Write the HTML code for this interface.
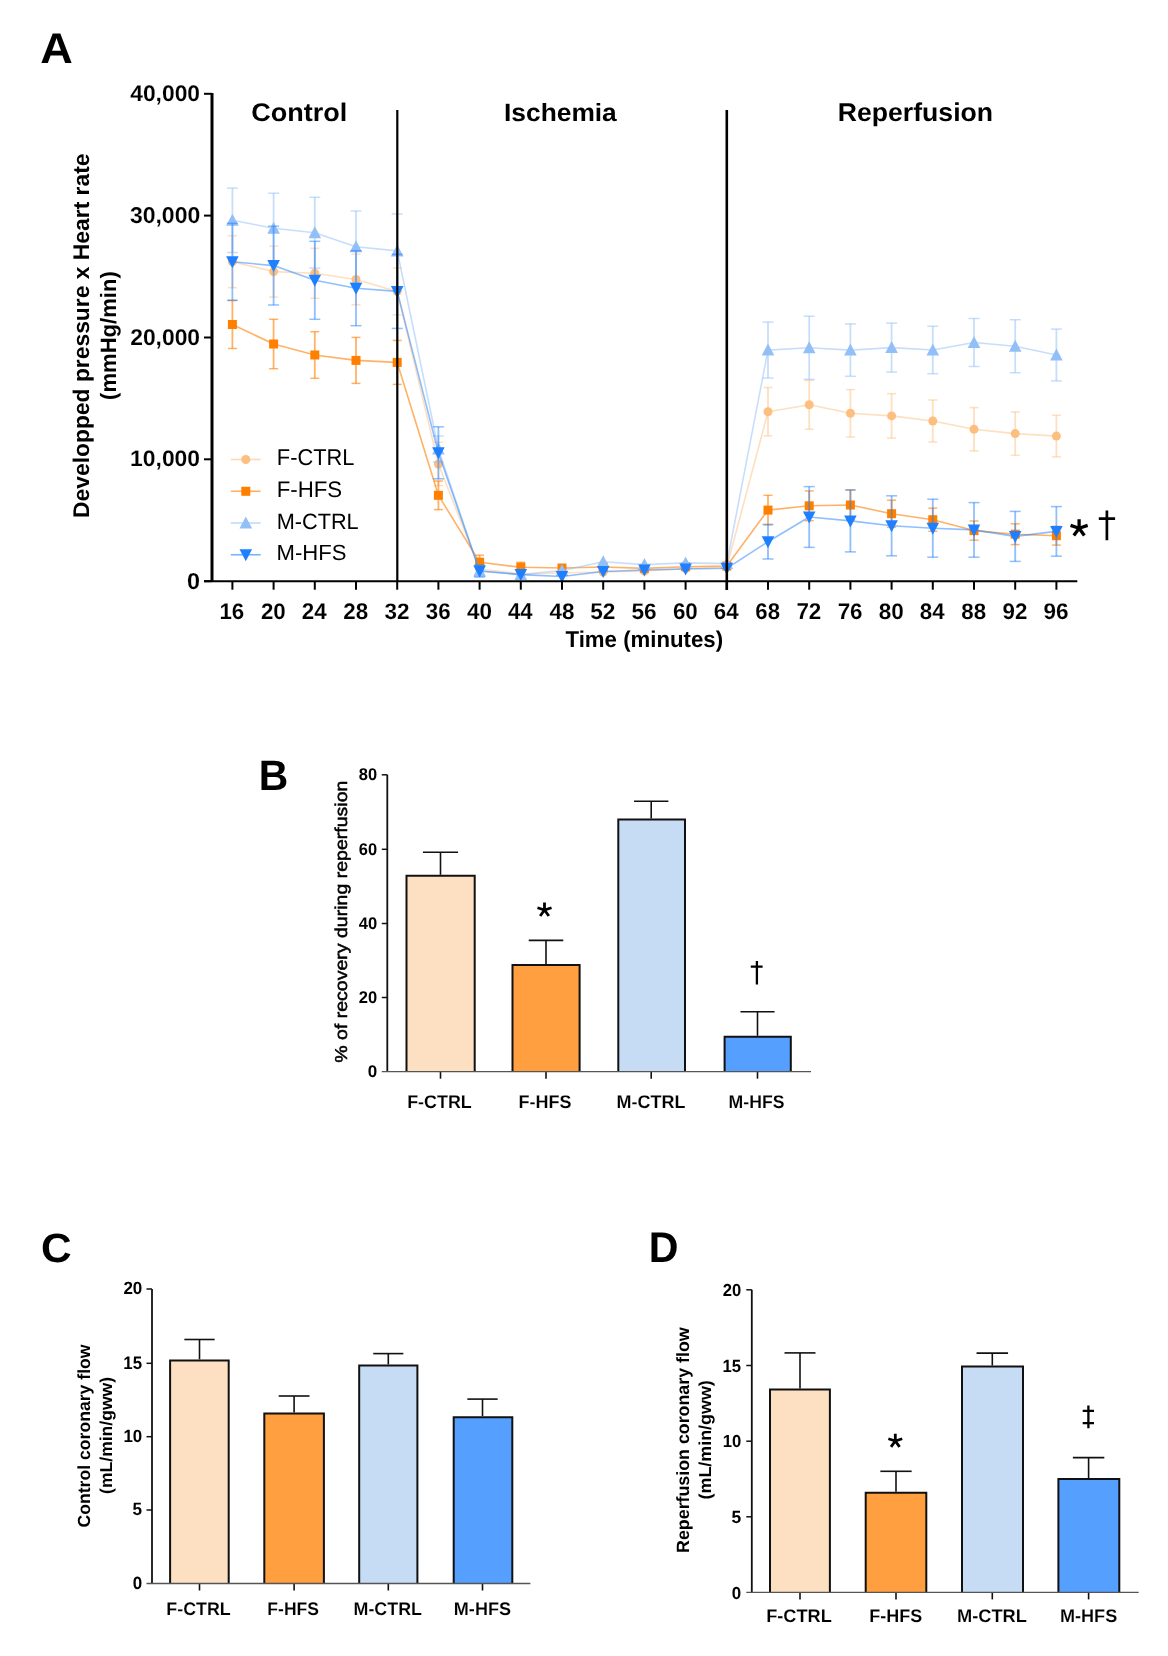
<!DOCTYPE html>
<html><head><meta charset="utf-8"><style>
html,body{margin:0;padding:0;background:#fff;}
svg{display:block;filter:blur(0.3px);}
text{font-family:"Liberation Sans", sans-serif;fill:#000;text-rendering:geometricPrecision;}
</style></head><body>
<svg width="1168" height="1656" viewBox="0 0 1168 1656">
<rect width="1168" height="1656" fill="#fff"/>
<g stroke-opacity="0.5">
<line x1="232.40" y1="235.70" x2="232.40" y2="287.70" stroke="#FDBF80" stroke-width="1.8" />
<line x1="227.90" y1="235.70" x2="236.90" y2="235.70" stroke="#FDBF80" stroke-width="1.5" />
<line x1="227.90" y1="287.70" x2="236.90" y2="287.70" stroke="#FDBF80" stroke-width="1.5" />
<line x1="273.60" y1="246.10" x2="273.60" y2="297.10" stroke="#FDBF80" stroke-width="1.8" />
<line x1="269.10" y1="246.10" x2="278.10" y2="246.10" stroke="#FDBF80" stroke-width="1.5" />
<line x1="269.10" y1="297.10" x2="278.10" y2="297.10" stroke="#FDBF80" stroke-width="1.5" />
<line x1="314.80" y1="248.30" x2="314.80" y2="298.30" stroke="#FDBF80" stroke-width="1.8" />
<line x1="310.30" y1="248.30" x2="319.30" y2="248.30" stroke="#FDBF80" stroke-width="1.5" />
<line x1="310.30" y1="298.30" x2="319.30" y2="298.30" stroke="#FDBF80" stroke-width="1.5" />
<line x1="356.00" y1="254.20" x2="356.00" y2="304.80" stroke="#FDBF80" stroke-width="1.8" />
<line x1="351.50" y1="254.20" x2="360.50" y2="254.20" stroke="#FDBF80" stroke-width="1.5" />
<line x1="351.50" y1="304.80" x2="360.50" y2="304.80" stroke="#FDBF80" stroke-width="1.5" />
<line x1="397.20" y1="267.90" x2="397.20" y2="314.90" stroke="#FDBF80" stroke-width="1.8" />
<line x1="392.70" y1="267.90" x2="401.70" y2="267.90" stroke="#FDBF80" stroke-width="1.5" />
<line x1="392.70" y1="314.90" x2="401.70" y2="314.90" stroke="#FDBF80" stroke-width="1.5" />
<line x1="438.40" y1="442.30" x2="438.40" y2="485.70" stroke="#FDBF80" stroke-width="1.8" />
<line x1="433.90" y1="442.30" x2="442.90" y2="442.30" stroke="#FDBF80" stroke-width="1.5" />
<line x1="433.90" y1="485.70" x2="442.90" y2="485.70" stroke="#FDBF80" stroke-width="1.5" />
<line x1="479.60" y1="564.00" x2="479.60" y2="574.00" stroke="#FDBF80" stroke-width="1.8" />
<line x1="475.10" y1="564.00" x2="484.10" y2="564.00" stroke="#FDBF80" stroke-width="1.5" />
<line x1="475.10" y1="574.00" x2="484.10" y2="574.00" stroke="#FDBF80" stroke-width="1.5" />
<line x1="768.00" y1="387.50" x2="768.00" y2="435.90" stroke="#FDBF80" stroke-width="1.8" />
<line x1="763.50" y1="387.50" x2="772.50" y2="387.50" stroke="#FDBF80" stroke-width="1.5" />
<line x1="763.50" y1="435.90" x2="772.50" y2="435.90" stroke="#FDBF80" stroke-width="1.5" />
<line x1="809.20" y1="380.40" x2="809.20" y2="429.20" stroke="#FDBF80" stroke-width="1.8" />
<line x1="804.70" y1="380.40" x2="813.70" y2="380.40" stroke="#FDBF80" stroke-width="1.5" />
<line x1="804.70" y1="429.20" x2="813.70" y2="429.20" stroke="#FDBF80" stroke-width="1.5" />
<line x1="850.40" y1="389.60" x2="850.40" y2="437.00" stroke="#FDBF80" stroke-width="1.8" />
<line x1="845.90" y1="389.60" x2="854.90" y2="389.60" stroke="#FDBF80" stroke-width="1.5" />
<line x1="845.90" y1="437.00" x2="854.90" y2="437.00" stroke="#FDBF80" stroke-width="1.5" />
<line x1="891.60" y1="393.70" x2="891.60" y2="438.10" stroke="#FDBF80" stroke-width="1.8" />
<line x1="887.10" y1="393.70" x2="896.10" y2="393.70" stroke="#FDBF80" stroke-width="1.5" />
<line x1="887.10" y1="438.10" x2="896.10" y2="438.10" stroke="#FDBF80" stroke-width="1.5" />
<line x1="932.80" y1="400.00" x2="932.80" y2="442.00" stroke="#FDBF80" stroke-width="1.8" />
<line x1="928.30" y1="400.00" x2="937.30" y2="400.00" stroke="#FDBF80" stroke-width="1.5" />
<line x1="928.30" y1="442.00" x2="937.30" y2="442.00" stroke="#FDBF80" stroke-width="1.5" />
<line x1="974.00" y1="407.60" x2="974.00" y2="451.00" stroke="#FDBF80" stroke-width="1.8" />
<line x1="969.50" y1="407.60" x2="978.50" y2="407.60" stroke="#FDBF80" stroke-width="1.5" />
<line x1="969.50" y1="451.00" x2="978.50" y2="451.00" stroke="#FDBF80" stroke-width="1.5" />
<line x1="1015.20" y1="411.90" x2="1015.20" y2="455.30" stroke="#FDBF80" stroke-width="1.8" />
<line x1="1010.70" y1="411.90" x2="1019.70" y2="411.90" stroke="#FDBF80" stroke-width="1.5" />
<line x1="1010.70" y1="455.30" x2="1019.70" y2="455.30" stroke="#FDBF80" stroke-width="1.5" />
<line x1="1056.40" y1="415.30" x2="1056.40" y2="456.90" stroke="#FDBF80" stroke-width="1.8" />
<line x1="1051.90" y1="415.30" x2="1060.90" y2="415.30" stroke="#FDBF80" stroke-width="1.5" />
<line x1="1051.90" y1="456.90" x2="1060.90" y2="456.90" stroke="#FDBF80" stroke-width="1.5" />
</g>
<polyline points="232.4,261.7 273.6,271.6 314.8,273.3 356.0,279.5 397.2,291.4 438.4,464.0 479.6,569.0 520.8,574.0 562.0,573.0 603.2,572.0 644.4,571.0 685.6,568.5 726.8,567.0 768.0,411.7 809.2,404.8 850.4,413.3 891.6,415.9 932.8,421.0 974.0,429.3 1015.2,433.6 1056.4,436.1" fill="none" stroke="#FDBF80" stroke-width="1.6" stroke-opacity="0.5" stroke-linejoin="round"/>
<circle cx="232.4" cy="261.7" r="4.5" fill="#FDBF80"/>
<circle cx="273.6" cy="271.6" r="4.5" fill="#FDBF80"/>
<circle cx="314.8" cy="273.3" r="4.5" fill="#FDBF80"/>
<circle cx="356.0" cy="279.5" r="4.5" fill="#FDBF80"/>
<circle cx="397.2" cy="291.4" r="4.5" fill="#FDBF80"/>
<circle cx="438.4" cy="464.0" r="4.5" fill="#FDBF80"/>
<circle cx="479.6" cy="569.0" r="4.5" fill="#FDBF80"/>
<circle cx="520.8" cy="574.0" r="4.5" fill="#FDBF80"/>
<circle cx="562.0" cy="573.0" r="4.5" fill="#FDBF80"/>
<circle cx="603.2" cy="572.0" r="4.5" fill="#FDBF80"/>
<circle cx="644.4" cy="571.0" r="4.5" fill="#FDBF80"/>
<circle cx="685.6" cy="568.5" r="4.5" fill="#FDBF80"/>
<circle cx="726.8" cy="567.0" r="4.5" fill="#FDBF80"/>
<circle cx="768.0" cy="411.7" r="4.5" fill="#FDBF80"/>
<circle cx="809.2" cy="404.8" r="4.5" fill="#FDBF80"/>
<circle cx="850.4" cy="413.3" r="4.5" fill="#FDBF80"/>
<circle cx="891.6" cy="415.9" r="4.5" fill="#FDBF80"/>
<circle cx="932.8" cy="421.0" r="4.5" fill="#FDBF80"/>
<circle cx="974.0" cy="429.3" r="4.5" fill="#FDBF80"/>
<circle cx="1015.2" cy="433.6" r="4.5" fill="#FDBF80"/>
<circle cx="1056.4" cy="436.1" r="4.5" fill="#FDBF80"/>
<g stroke-opacity="0.6">
<line x1="232.40" y1="300.50" x2="232.40" y2="348.50" stroke="#FF7F00" stroke-width="1.8" />
<line x1="227.90" y1="300.50" x2="236.90" y2="300.50" stroke="#FF7F00" stroke-width="1.5" />
<line x1="227.90" y1="348.50" x2="236.90" y2="348.50" stroke="#FF7F00" stroke-width="1.5" />
<line x1="273.60" y1="319.30" x2="273.60" y2="368.70" stroke="#FF7F00" stroke-width="1.8" />
<line x1="269.10" y1="319.30" x2="278.10" y2="319.30" stroke="#FF7F00" stroke-width="1.5" />
<line x1="269.10" y1="368.70" x2="278.10" y2="368.70" stroke="#FF7F00" stroke-width="1.5" />
<line x1="314.80" y1="331.70" x2="314.80" y2="378.30" stroke="#FF7F00" stroke-width="1.8" />
<line x1="310.30" y1="331.70" x2="319.30" y2="331.70" stroke="#FF7F00" stroke-width="1.5" />
<line x1="310.30" y1="378.30" x2="319.30" y2="378.30" stroke="#FF7F00" stroke-width="1.5" />
<line x1="356.00" y1="337.40" x2="356.00" y2="383.40" stroke="#FF7F00" stroke-width="1.8" />
<line x1="351.50" y1="337.40" x2="360.50" y2="337.40" stroke="#FF7F00" stroke-width="1.5" />
<line x1="351.50" y1="383.40" x2="360.50" y2="383.40" stroke="#FF7F00" stroke-width="1.5" />
<line x1="397.20" y1="340.40" x2="397.20" y2="384.40" stroke="#FF7F00" stroke-width="1.8" />
<line x1="392.70" y1="340.40" x2="401.70" y2="340.40" stroke="#FF7F00" stroke-width="1.5" />
<line x1="392.70" y1="384.40" x2="401.70" y2="384.40" stroke="#FF7F00" stroke-width="1.5" />
<line x1="438.40" y1="481.00" x2="438.40" y2="509.60" stroke="#FF7F00" stroke-width="1.8" />
<line x1="433.90" y1="481.00" x2="442.90" y2="481.00" stroke="#FF7F00" stroke-width="1.5" />
<line x1="433.90" y1="509.60" x2="442.90" y2="509.60" stroke="#FF7F00" stroke-width="1.5" />
<line x1="479.60" y1="555.20" x2="479.60" y2="569.20" stroke="#FF7F00" stroke-width="1.8" />
<line x1="475.10" y1="555.20" x2="484.10" y2="555.20" stroke="#FF7F00" stroke-width="1.5" />
<line x1="475.10" y1="569.20" x2="484.10" y2="569.20" stroke="#FF7F00" stroke-width="1.5" />
<line x1="520.80" y1="562.30" x2="520.80" y2="572.30" stroke="#FF7F00" stroke-width="1.8" />
<line x1="516.30" y1="562.30" x2="525.30" y2="562.30" stroke="#FF7F00" stroke-width="1.5" />
<line x1="516.30" y1="572.30" x2="525.30" y2="572.30" stroke="#FF7F00" stroke-width="1.5" />
<line x1="768.00" y1="495.30" x2="768.00" y2="524.90" stroke="#FF7F00" stroke-width="1.8" />
<line x1="763.50" y1="495.30" x2="772.50" y2="495.30" stroke="#FF7F00" stroke-width="1.5" />
<line x1="763.50" y1="524.90" x2="772.50" y2="524.90" stroke="#FF7F00" stroke-width="1.5" />
<line x1="809.20" y1="490.90" x2="809.20" y2="520.70" stroke="#FF7F00" stroke-width="1.8" />
<line x1="804.70" y1="490.90" x2="813.70" y2="490.90" stroke="#FF7F00" stroke-width="1.5" />
<line x1="804.70" y1="520.70" x2="813.70" y2="520.70" stroke="#FF7F00" stroke-width="1.5" />
<line x1="850.40" y1="490.00" x2="850.40" y2="520.00" stroke="#FF7F00" stroke-width="1.8" />
<line x1="845.90" y1="490.00" x2="854.90" y2="490.00" stroke="#FF7F00" stroke-width="1.5" />
<line x1="845.90" y1="520.00" x2="854.90" y2="520.00" stroke="#FF7F00" stroke-width="1.5" />
<line x1="891.60" y1="500.20" x2="891.60" y2="527.20" stroke="#FF7F00" stroke-width="1.8" />
<line x1="887.10" y1="500.20" x2="896.10" y2="500.20" stroke="#FF7F00" stroke-width="1.5" />
<line x1="887.10" y1="527.20" x2="896.10" y2="527.20" stroke="#FF7F00" stroke-width="1.5" />
<line x1="932.80" y1="508.10" x2="932.80" y2="531.30" stroke="#FF7F00" stroke-width="1.8" />
<line x1="928.30" y1="508.10" x2="937.30" y2="508.10" stroke="#FF7F00" stroke-width="1.5" />
<line x1="928.30" y1="531.30" x2="937.30" y2="531.30" stroke="#FF7F00" stroke-width="1.5" />
<line x1="974.00" y1="521.00" x2="974.00" y2="540.20" stroke="#FF7F00" stroke-width="1.8" />
<line x1="969.50" y1="521.00" x2="978.50" y2="521.00" stroke="#FF7F00" stroke-width="1.5" />
<line x1="969.50" y1="540.20" x2="978.50" y2="540.20" stroke="#FF7F00" stroke-width="1.5" />
<line x1="1015.20" y1="523.80" x2="1015.20" y2="544.60" stroke="#FF7F00" stroke-width="1.8" />
<line x1="1010.70" y1="523.80" x2="1019.70" y2="523.80" stroke="#FF7F00" stroke-width="1.5" />
<line x1="1010.70" y1="544.60" x2="1019.70" y2="544.60" stroke="#FF7F00" stroke-width="1.5" />
<line x1="1056.40" y1="526.30" x2="1056.40" y2="545.10" stroke="#FF7F00" stroke-width="1.8" />
<line x1="1051.90" y1="526.30" x2="1060.90" y2="526.30" stroke="#FF7F00" stroke-width="1.5" />
<line x1="1051.90" y1="545.10" x2="1060.90" y2="545.10" stroke="#FF7F00" stroke-width="1.5" />
</g>
<polyline points="232.4,324.5 273.6,344.0 314.8,355.0 356.0,360.4 397.2,362.4 438.4,495.3 479.6,562.2 520.8,567.3 562.0,568.0 603.2,567.0 644.4,568.4 685.6,566.7 726.8,566.0 768.0,510.1 809.2,505.8 850.4,505.0 891.6,513.7 932.8,519.7 974.0,530.6 1015.2,534.2 1056.4,535.7" fill="none" stroke="#FF7F00" stroke-width="1.6" stroke-opacity="0.6" stroke-linejoin="round"/>
<rect x="227.9" y="320.0" width="9" height="9" fill="#FF7F00"/>
<rect x="269.1" y="339.5" width="9" height="9" fill="#FF7F00"/>
<rect x="310.3" y="350.5" width="9" height="9" fill="#FF7F00"/>
<rect x="351.5" y="355.9" width="9" height="9" fill="#FF7F00"/>
<rect x="392.7" y="357.9" width="9" height="9" fill="#FF7F00"/>
<rect x="433.9" y="490.8" width="9" height="9" fill="#FF7F00"/>
<rect x="475.1" y="557.7" width="9" height="9" fill="#FF7F00"/>
<rect x="516.3" y="562.8" width="9" height="9" fill="#FF7F00"/>
<rect x="557.5" y="563.5" width="9" height="9" fill="#FF7F00"/>
<rect x="598.7" y="562.5" width="9" height="9" fill="#FF7F00"/>
<rect x="639.9" y="563.9" width="9" height="9" fill="#FF7F00"/>
<rect x="681.1" y="562.2" width="9" height="9" fill="#FF7F00"/>
<rect x="722.3" y="561.5" width="9" height="9" fill="#FF7F00"/>
<rect x="763.5" y="505.6" width="9" height="9" fill="#FF7F00"/>
<rect x="804.7" y="501.3" width="9" height="9" fill="#FF7F00"/>
<rect x="845.9" y="500.5" width="9" height="9" fill="#FF7F00"/>
<rect x="887.1" y="509.2" width="9" height="9" fill="#FF7F00"/>
<rect x="928.3" y="515.2" width="9" height="9" fill="#FF7F00"/>
<rect x="969.5" y="526.1" width="9" height="9" fill="#FF7F00"/>
<rect x="1010.7" y="529.7" width="9" height="9" fill="#FF7F00"/>
<rect x="1051.9" y="531.2" width="9" height="9" fill="#FF7F00"/>
<g stroke-opacity="0.52">
<line x1="232.40" y1="188.10" x2="232.40" y2="252.50" stroke="#93BFF7" stroke-width="1.8" />
<line x1="226.90" y1="188.10" x2="237.90" y2="188.10" stroke="#93BFF7" stroke-width="1.5" />
<line x1="226.90" y1="252.50" x2="237.90" y2="252.50" stroke="#93BFF7" stroke-width="1.5" />
<line x1="273.60" y1="193.20" x2="273.60" y2="263.20" stroke="#93BFF7" stroke-width="1.8" />
<line x1="268.10" y1="193.20" x2="279.10" y2="193.20" stroke="#93BFF7" stroke-width="1.5" />
<line x1="268.10" y1="263.20" x2="279.10" y2="263.20" stroke="#93BFF7" stroke-width="1.5" />
<line x1="314.80" y1="197.30" x2="314.80" y2="268.10" stroke="#93BFF7" stroke-width="1.8" />
<line x1="309.30" y1="197.30" x2="320.30" y2="197.30" stroke="#93BFF7" stroke-width="1.5" />
<line x1="309.30" y1="268.10" x2="320.30" y2="268.10" stroke="#93BFF7" stroke-width="1.5" />
<line x1="356.00" y1="211.00" x2="356.00" y2="282.60" stroke="#93BFF7" stroke-width="1.8" />
<line x1="350.50" y1="211.00" x2="361.50" y2="211.00" stroke="#93BFF7" stroke-width="1.5" />
<line x1="350.50" y1="282.60" x2="361.50" y2="282.60" stroke="#93BFF7" stroke-width="1.5" />
<line x1="397.20" y1="213.90" x2="397.20" y2="287.90" stroke="#93BFF7" stroke-width="1.8" />
<line x1="391.70" y1="213.90" x2="402.70" y2="213.90" stroke="#93BFF7" stroke-width="1.5" />
<line x1="391.70" y1="287.90" x2="402.70" y2="287.90" stroke="#93BFF7" stroke-width="1.5" />
<line x1="438.40" y1="436.00" x2="438.40" y2="462.00" stroke="#93BFF7" stroke-width="1.8" />
<line x1="432.90" y1="436.00" x2="443.90" y2="436.00" stroke="#93BFF7" stroke-width="1.5" />
<line x1="432.90" y1="462.00" x2="443.90" y2="462.00" stroke="#93BFF7" stroke-width="1.5" />
<line x1="479.60" y1="566.00" x2="479.60" y2="576.00" stroke="#93BFF7" stroke-width="1.8" />
<line x1="474.10" y1="566.00" x2="485.10" y2="566.00" stroke="#93BFF7" stroke-width="1.5" />
<line x1="474.10" y1="576.00" x2="485.10" y2="576.00" stroke="#93BFF7" stroke-width="1.5" />
<line x1="768.00" y1="322.10" x2="768.00" y2="378.10" stroke="#93BFF7" stroke-width="1.8" />
<line x1="762.50" y1="322.10" x2="773.50" y2="322.10" stroke="#93BFF7" stroke-width="1.5" />
<line x1="762.50" y1="378.10" x2="773.50" y2="378.10" stroke="#93BFF7" stroke-width="1.5" />
<line x1="809.20" y1="316.20" x2="809.20" y2="379.40" stroke="#93BFF7" stroke-width="1.8" />
<line x1="803.70" y1="316.20" x2="814.70" y2="316.20" stroke="#93BFF7" stroke-width="1.5" />
<line x1="803.70" y1="379.40" x2="814.70" y2="379.40" stroke="#93BFF7" stroke-width="1.5" />
<line x1="850.40" y1="323.90" x2="850.40" y2="376.30" stroke="#93BFF7" stroke-width="1.8" />
<line x1="844.90" y1="323.90" x2="855.90" y2="323.90" stroke="#93BFF7" stroke-width="1.5" />
<line x1="844.90" y1="376.30" x2="855.90" y2="376.30" stroke="#93BFF7" stroke-width="1.5" />
<line x1="891.60" y1="323.10" x2="891.60" y2="372.10" stroke="#93BFF7" stroke-width="1.8" />
<line x1="886.10" y1="323.10" x2="897.10" y2="323.10" stroke="#93BFF7" stroke-width="1.5" />
<line x1="886.10" y1="372.10" x2="897.10" y2="372.10" stroke="#93BFF7" stroke-width="1.5" />
<line x1="932.80" y1="326.30" x2="932.80" y2="373.70" stroke="#93BFF7" stroke-width="1.8" />
<line x1="927.30" y1="326.30" x2="938.30" y2="326.30" stroke="#93BFF7" stroke-width="1.5" />
<line x1="927.30" y1="373.70" x2="938.30" y2="373.70" stroke="#93BFF7" stroke-width="1.5" />
<line x1="974.00" y1="318.50" x2="974.00" y2="366.50" stroke="#93BFF7" stroke-width="1.8" />
<line x1="968.50" y1="318.50" x2="979.50" y2="318.50" stroke="#93BFF7" stroke-width="1.5" />
<line x1="968.50" y1="366.50" x2="979.50" y2="366.50" stroke="#93BFF7" stroke-width="1.5" />
<line x1="1015.20" y1="319.70" x2="1015.20" y2="372.70" stroke="#93BFF7" stroke-width="1.8" />
<line x1="1009.70" y1="319.70" x2="1020.70" y2="319.70" stroke="#93BFF7" stroke-width="1.5" />
<line x1="1009.70" y1="372.70" x2="1020.70" y2="372.70" stroke="#93BFF7" stroke-width="1.5" />
<line x1="1056.40" y1="329.10" x2="1056.40" y2="380.90" stroke="#93BFF7" stroke-width="1.8" />
<line x1="1050.90" y1="329.10" x2="1061.90" y2="329.10" stroke="#93BFF7" stroke-width="1.5" />
<line x1="1050.90" y1="380.90" x2="1061.90" y2="380.90" stroke="#93BFF7" stroke-width="1.5" />
</g>
<polyline points="232.4,220.3 273.6,228.2 314.8,232.7 356.0,246.8 397.2,250.9 438.4,449.0 479.6,571.0 520.8,574.5 562.0,570.5 603.2,561.8 644.4,564.6 685.6,562.9 726.8,563.6 768.0,350.1 809.2,347.8 850.4,350.1 891.6,347.6 932.8,350.0 974.0,342.5 1015.2,346.2 1056.4,355.0" fill="none" stroke="#93BFF7" stroke-width="1.6" stroke-opacity="0.52" stroke-linejoin="round"/>
<polygon points="232.4,213.8 238.7,225.8 226.1,225.8" fill="#93BFF7"/>
<polygon points="273.6,221.7 279.9,233.7 267.3,233.7" fill="#93BFF7"/>
<polygon points="314.8,226.2 321.1,238.2 308.5,238.2" fill="#93BFF7"/>
<polygon points="356.0,240.3 362.3,252.3 349.7,252.3" fill="#93BFF7"/>
<polygon points="397.2,244.4 403.5,256.4 390.9,256.4" fill="#93BFF7"/>
<polygon points="438.4,442.5 444.7,454.5 432.1,454.5" fill="#93BFF7"/>
<polygon points="479.6,564.5 485.9,576.5 473.3,576.5" fill="#93BFF7"/>
<polygon points="520.8,568.0 527.1,580.0 514.5,580.0" fill="#93BFF7"/>
<polygon points="562.0,564.0 568.3,576.0 555.7,576.0" fill="#93BFF7"/>
<polygon points="603.2,555.3 609.5,567.3 596.9,567.3" fill="#93BFF7"/>
<polygon points="644.4,558.1 650.7,570.1 638.1,570.1" fill="#93BFF7"/>
<polygon points="685.6,556.4 691.9,568.4 679.3,568.4" fill="#93BFF7"/>
<polygon points="726.8,557.1 733.1,569.1 720.5,569.1" fill="#93BFF7"/>
<polygon points="768.0,343.6 774.3,355.6 761.7,355.6" fill="#93BFF7"/>
<polygon points="809.2,341.3 815.5,353.3 802.9,353.3" fill="#93BFF7"/>
<polygon points="850.4,343.6 856.7,355.6 844.1,355.6" fill="#93BFF7"/>
<polygon points="891.6,341.1 897.9,353.1 885.3,353.1" fill="#93BFF7"/>
<polygon points="932.8,343.5 939.1,355.5 926.5,355.5" fill="#93BFF7"/>
<polygon points="974.0,336.0 980.3,348.0 967.7,348.0" fill="#93BFF7"/>
<polygon points="1015.2,339.7 1021.5,351.7 1008.9,351.7" fill="#93BFF7"/>
<polygon points="1056.4,348.5 1062.7,360.5 1050.1,360.5" fill="#93BFF7"/>
<g stroke-opacity="0.5">
<line x1="232.40" y1="223.30" x2="232.40" y2="300.30" stroke="#1F80FF" stroke-width="1.8" />
<line x1="226.90" y1="223.30" x2="237.90" y2="223.30" stroke="#1F80FF" stroke-width="1.5" />
<line x1="226.90" y1="300.30" x2="237.90" y2="300.30" stroke="#1F80FF" stroke-width="1.5" />
<line x1="273.60" y1="226.20" x2="273.60" y2="305.00" stroke="#1F80FF" stroke-width="1.8" />
<line x1="268.10" y1="226.20" x2="279.10" y2="226.20" stroke="#1F80FF" stroke-width="1.5" />
<line x1="268.10" y1="305.00" x2="279.10" y2="305.00" stroke="#1F80FF" stroke-width="1.5" />
<line x1="314.80" y1="241.30" x2="314.80" y2="319.30" stroke="#1F80FF" stroke-width="1.8" />
<line x1="309.30" y1="241.30" x2="320.30" y2="241.30" stroke="#1F80FF" stroke-width="1.5" />
<line x1="309.30" y1="319.30" x2="320.30" y2="319.30" stroke="#1F80FF" stroke-width="1.5" />
<line x1="356.00" y1="250.70" x2="356.00" y2="325.70" stroke="#1F80FF" stroke-width="1.8" />
<line x1="350.50" y1="250.70" x2="361.50" y2="250.70" stroke="#1F80FF" stroke-width="1.5" />
<line x1="350.50" y1="325.70" x2="361.50" y2="325.70" stroke="#1F80FF" stroke-width="1.5" />
<line x1="397.20" y1="254.40" x2="397.20" y2="328.40" stroke="#1F80FF" stroke-width="1.8" />
<line x1="391.70" y1="254.40" x2="402.70" y2="254.40" stroke="#1F80FF" stroke-width="1.5" />
<line x1="391.70" y1="328.40" x2="402.70" y2="328.40" stroke="#1F80FF" stroke-width="1.5" />
<line x1="438.40" y1="426.80" x2="438.40" y2="478.80" stroke="#1F80FF" stroke-width="1.8" />
<line x1="432.90" y1="426.80" x2="443.90" y2="426.80" stroke="#1F80FF" stroke-width="1.5" />
<line x1="432.90" y1="478.80" x2="443.90" y2="478.80" stroke="#1F80FF" stroke-width="1.5" />
<line x1="479.60" y1="565.00" x2="479.60" y2="577.00" stroke="#1F80FF" stroke-width="1.8" />
<line x1="474.10" y1="565.00" x2="485.10" y2="565.00" stroke="#1F80FF" stroke-width="1.5" />
<line x1="474.10" y1="577.00" x2="485.10" y2="577.00" stroke="#1F80FF" stroke-width="1.5" />
<line x1="768.00" y1="524.40" x2="768.00" y2="559.00" stroke="#1F80FF" stroke-width="1.8" />
<line x1="762.50" y1="524.40" x2="773.50" y2="524.40" stroke="#1F80FF" stroke-width="1.5" />
<line x1="762.50" y1="559.00" x2="773.50" y2="559.00" stroke="#1F80FF" stroke-width="1.5" />
<line x1="809.20" y1="486.60" x2="809.20" y2="547.40" stroke="#1F80FF" stroke-width="1.8" />
<line x1="803.70" y1="486.60" x2="814.70" y2="486.60" stroke="#1F80FF" stroke-width="1.5" />
<line x1="803.70" y1="547.40" x2="814.70" y2="547.40" stroke="#1F80FF" stroke-width="1.5" />
<line x1="850.40" y1="489.90" x2="850.40" y2="551.90" stroke="#1F80FF" stroke-width="1.8" />
<line x1="844.90" y1="489.90" x2="855.90" y2="489.90" stroke="#1F80FF" stroke-width="1.5" />
<line x1="844.90" y1="551.90" x2="855.90" y2="551.90" stroke="#1F80FF" stroke-width="1.5" />
<line x1="891.60" y1="495.80" x2="891.60" y2="555.80" stroke="#1F80FF" stroke-width="1.8" />
<line x1="886.10" y1="495.80" x2="897.10" y2="495.80" stroke="#1F80FF" stroke-width="1.5" />
<line x1="886.10" y1="555.80" x2="897.10" y2="555.80" stroke="#1F80FF" stroke-width="1.5" />
<line x1="932.80" y1="499.20" x2="932.80" y2="557.20" stroke="#1F80FF" stroke-width="1.8" />
<line x1="927.30" y1="499.20" x2="938.30" y2="499.20" stroke="#1F80FF" stroke-width="1.5" />
<line x1="927.30" y1="557.20" x2="938.30" y2="557.20" stroke="#1F80FF" stroke-width="1.5" />
<line x1="974.00" y1="502.60" x2="974.00" y2="557.20" stroke="#1F80FF" stroke-width="1.8" />
<line x1="968.50" y1="502.60" x2="979.50" y2="502.60" stroke="#1F80FF" stroke-width="1.5" />
<line x1="968.50" y1="557.20" x2="979.50" y2="557.20" stroke="#1F80FF" stroke-width="1.5" />
<line x1="1015.20" y1="511.40" x2="1015.20" y2="561.40" stroke="#1F80FF" stroke-width="1.8" />
<line x1="1009.70" y1="511.40" x2="1020.70" y2="511.40" stroke="#1F80FF" stroke-width="1.5" />
<line x1="1009.70" y1="561.40" x2="1020.70" y2="561.40" stroke="#1F80FF" stroke-width="1.5" />
<line x1="1056.40" y1="506.60" x2="1056.40" y2="556.20" stroke="#1F80FF" stroke-width="1.8" />
<line x1="1050.90" y1="506.60" x2="1061.90" y2="506.60" stroke="#1F80FF" stroke-width="1.5" />
<line x1="1050.90" y1="556.20" x2="1061.90" y2="556.20" stroke="#1F80FF" stroke-width="1.5" />
</g>
<polyline points="232.4,261.8 273.6,265.6 314.8,280.3 356.0,288.2 397.2,291.4 438.4,452.8 479.6,571.0 520.8,574.6 562.0,576.5 603.2,571.5 644.4,570.0 685.6,569.0 726.8,568.3 768.0,541.7 809.2,517.0 850.4,520.9 891.6,525.8 932.8,528.2 974.0,529.9 1015.2,536.4 1056.4,531.4" fill="none" stroke="#1F80FF" stroke-width="1.6" stroke-opacity="0.5" stroke-linejoin="round"/>
<polygon points="232.4,268.3 238.7,256.3 226.1,256.3" fill="#1F80FF"/>
<polygon points="273.6,272.1 279.9,260.1 267.3,260.1" fill="#1F80FF"/>
<polygon points="314.8,286.8 321.1,274.8 308.5,274.8" fill="#1F80FF"/>
<polygon points="356.0,294.7 362.3,282.7 349.7,282.7" fill="#1F80FF"/>
<polygon points="397.2,297.9 403.5,285.9 390.9,285.9" fill="#1F80FF"/>
<polygon points="438.4,459.3 444.7,447.3 432.1,447.3" fill="#1F80FF"/>
<polygon points="479.6,577.5 485.9,565.5 473.3,565.5" fill="#1F80FF"/>
<polygon points="520.8,581.1 527.1,569.1 514.5,569.1" fill="#1F80FF"/>
<polygon points="562.0,583.0 568.3,571.0 555.7,571.0" fill="#1F80FF"/>
<polygon points="603.2,578.0 609.5,566.0 596.9,566.0" fill="#1F80FF"/>
<polygon points="644.4,576.5 650.7,564.5 638.1,564.5" fill="#1F80FF"/>
<polygon points="685.6,575.5 691.9,563.5 679.3,563.5" fill="#1F80FF"/>
<polygon points="726.8,574.8 733.1,562.8 720.5,562.8" fill="#1F80FF"/>
<polygon points="768.0,548.2 774.3,536.2 761.7,536.2" fill="#1F80FF"/>
<polygon points="809.2,523.5 815.5,511.5 802.9,511.5" fill="#1F80FF"/>
<polygon points="850.4,527.4 856.7,515.4 844.1,515.4" fill="#1F80FF"/>
<polygon points="891.6,532.3 897.9,520.3 885.3,520.3" fill="#1F80FF"/>
<polygon points="932.8,534.7 939.1,522.7 926.5,522.7" fill="#1F80FF"/>
<polygon points="974.0,536.4 980.3,524.4 967.7,524.4" fill="#1F80FF"/>
<polygon points="1015.2,542.9 1021.5,530.9 1008.9,530.9" fill="#1F80FF"/>
<polygon points="1056.4,537.9 1062.7,525.9 1050.1,525.9" fill="#1F80FF"/>
<line x1="212.00" y1="93.00" x2="212.00" y2="582.00" stroke="#000" stroke-width="3" />
<line x1="204.00" y1="581.20" x2="1077.30" y2="581.20" stroke="#000" stroke-width="2" />
<line x1="204.00" y1="93.80" x2="212.00" y2="93.80" stroke="#000" stroke-width="2" />
<line x1="204.00" y1="215.60" x2="212.00" y2="215.60" stroke="#000" stroke-width="2" />
<line x1="204.00" y1="337.50" x2="212.00" y2="337.50" stroke="#000" stroke-width="2" />
<line x1="204.00" y1="459.30" x2="212.00" y2="459.30" stroke="#000" stroke-width="2" />
<line x1="204.00" y1="581.20" x2="212.00" y2="581.20" stroke="#000" stroke-width="2" />
<line x1="232.40" y1="581.00" x2="232.40" y2="589.70" stroke="#000" stroke-width="2" />
<line x1="273.60" y1="581.00" x2="273.60" y2="589.70" stroke="#000" stroke-width="2" />
<line x1="314.80" y1="581.00" x2="314.80" y2="589.70" stroke="#000" stroke-width="2" />
<line x1="356.00" y1="581.00" x2="356.00" y2="589.70" stroke="#000" stroke-width="2" />
<line x1="397.20" y1="581.00" x2="397.20" y2="589.70" stroke="#000" stroke-width="2" />
<line x1="438.40" y1="581.00" x2="438.40" y2="589.70" stroke="#000" stroke-width="2" />
<line x1="479.60" y1="581.00" x2="479.60" y2="589.70" stroke="#000" stroke-width="2" />
<line x1="520.80" y1="581.00" x2="520.80" y2="589.70" stroke="#000" stroke-width="2" />
<line x1="562.00" y1="581.00" x2="562.00" y2="589.70" stroke="#000" stroke-width="2" />
<line x1="603.20" y1="581.00" x2="603.20" y2="589.70" stroke="#000" stroke-width="2" />
<line x1="644.40" y1="581.00" x2="644.40" y2="589.70" stroke="#000" stroke-width="2" />
<line x1="685.60" y1="581.00" x2="685.60" y2="589.70" stroke="#000" stroke-width="2" />
<line x1="726.80" y1="581.00" x2="726.80" y2="589.70" stroke="#000" stroke-width="2" />
<line x1="768.00" y1="581.00" x2="768.00" y2="589.70" stroke="#000" stroke-width="2" />
<line x1="809.20" y1="581.00" x2="809.20" y2="589.70" stroke="#000" stroke-width="2" />
<line x1="850.40" y1="581.00" x2="850.40" y2="589.70" stroke="#000" stroke-width="2" />
<line x1="891.60" y1="581.00" x2="891.60" y2="589.70" stroke="#000" stroke-width="2" />
<line x1="932.80" y1="581.00" x2="932.80" y2="589.70" stroke="#000" stroke-width="2" />
<line x1="974.00" y1="581.00" x2="974.00" y2="589.70" stroke="#000" stroke-width="2" />
<line x1="1015.20" y1="581.00" x2="1015.20" y2="589.70" stroke="#000" stroke-width="2" />
<line x1="1056.40" y1="581.00" x2="1056.40" y2="589.70" stroke="#000" stroke-width="2" />
<line x1="397.30" y1="110.00" x2="397.30" y2="581.00" stroke="#000" stroke-width="2.2" />
<line x1="726.80" y1="110.00" x2="726.80" y2="590.00" stroke="#000" stroke-width="2.6" />
<line x1="230.8" y1="459.50" x2="260.7" y2="459.50" stroke="#FDBF80" stroke-width="1.6" stroke-opacity="0.6"/>
<circle cx="245.8" cy="459.5" r="4.5" fill="#FDBF80"/>
<line x1="230.8" y1="491.25" x2="260.7" y2="491.25" stroke="#FF7F00" stroke-width="1.6" stroke-opacity="0.6"/>
<rect x="241.3" y="486.8" width="9" height="9" fill="#FF7F00"/>
<line x1="230.8" y1="523.00" x2="260.7" y2="523.00" stroke="#93BFF7" stroke-width="1.6" stroke-opacity="0.6"/>
<polygon points="245.8,516.5 252.1,528.5 239.5,528.5" fill="#93BFF7"/>
<line x1="230.8" y1="554.75" x2="260.7" y2="554.75" stroke="#1F80FF" stroke-width="1.6" stroke-opacity="0.6"/>
<polygon points="245.8,561.2 252.1,549.2 239.5,549.2" fill="#1F80FF"/>
<path d="M1079.10,528.20L1079.10,519.20M1079.10,528.20L1087.66,525.42M1079.10,528.20L1084.39,535.48M1079.10,528.20L1073.81,535.48M1079.10,528.20L1070.54,525.42" stroke="#000" stroke-width="3.3" stroke-linecap="butt" fill="none"/>
<path d="M1106.90,510.40V540.20M1098.80,518.60H1115.10" stroke="#000" stroke-width="2.7" fill="none"/>
<line x1="440.50" y1="852.20" x2="440.50" y2="874.80" stroke="#111" stroke-width="1.6" />
<line x1="422.95" y1="852.20" x2="458.05" y2="852.20" stroke="#111" stroke-width="1.6" />
<rect x="406.5" y="875.8" width="68.2" height="195.9" fill="#FDDFC1"/>
<path d="M406.5,1071.7V875.8H474.7V1071.7" fill="none" stroke="#111" stroke-width="2" stroke-linejoin="miter"/>
<line x1="440.50" y1="1071.70" x2="440.50" y2="1078.70" stroke="#111" stroke-width="1.6" />
<line x1="546.00" y1="940.40" x2="546.00" y2="964.00" stroke="#111" stroke-width="1.6" />
<line x1="528.73" y1="940.40" x2="563.27" y2="940.40" stroke="#111" stroke-width="1.6" />
<rect x="512.5" y="965.0" width="67.1" height="106.7" fill="#FF9F40"/>
<path d="M512.5,1071.7V965.0H579.6V1071.7" fill="none" stroke="#111" stroke-width="2" stroke-linejoin="miter"/>
<line x1="546.00" y1="1071.70" x2="546.00" y2="1078.70" stroke="#111" stroke-width="1.6" />
<line x1="651.20" y1="801.20" x2="651.20" y2="818.60" stroke="#111" stroke-width="1.6" />
<line x1="634.03" y1="801.20" x2="668.38" y2="801.20" stroke="#111" stroke-width="1.6" />
<rect x="618.3" y="819.6" width="66.7" height="252.1" fill="#C6DCF5"/>
<path d="M618.3,1071.7V819.6H685.0V1071.7" fill="none" stroke="#111" stroke-width="2" stroke-linejoin="miter"/>
<line x1="651.20" y1="1071.70" x2="651.20" y2="1078.70" stroke="#111" stroke-width="1.6" />
<line x1="757.50" y1="1011.80" x2="757.50" y2="1035.80" stroke="#111" stroke-width="1.6" />
<line x1="740.45" y1="1011.80" x2="774.55" y2="1011.80" stroke="#111" stroke-width="1.6" />
<rect x="724.6" y="1036.8" width="66.2" height="34.9" fill="#55A0FF"/>
<path d="M724.6,1071.7V1036.8H790.8V1071.7" fill="none" stroke="#111" stroke-width="2" stroke-linejoin="miter"/>
<line x1="757.50" y1="1071.70" x2="757.50" y2="1078.70" stroke="#111" stroke-width="1.6" />
<line x1="387.30" y1="774.80" x2="387.30" y2="1071.70" stroke="#111" stroke-width="1.8" />
<line x1="381.80" y1="774.80" x2="387.30" y2="774.80" stroke="#111" stroke-width="1.5" />
<line x1="381.80" y1="849.30" x2="387.30" y2="849.30" stroke="#111" stroke-width="1.5" />
<line x1="381.80" y1="923.50" x2="387.30" y2="923.50" stroke="#111" stroke-width="1.5" />
<line x1="381.80" y1="997.50" x2="387.30" y2="997.50" stroke="#111" stroke-width="1.5" />
<line x1="381.80" y1="1071.70" x2="811.00" y2="1071.70" stroke="#555" stroke-width="1.3" />
<path d="M544.50,910.00L544.50,902.60M544.50,910.00L551.54,907.71M544.50,910.00L548.85,915.99M544.50,910.00L540.15,915.99M544.50,910.00L537.46,907.71" stroke="#000" stroke-width="2.8" stroke-linecap="butt" fill="none"/>
<path d="M756.90,961.00V984.50M750.80,966.70H762.60" stroke="#000" stroke-width="2.3" fill="none"/>
<line x1="199.50" y1="1339.50" x2="199.50" y2="1359.40" stroke="#111" stroke-width="1.6" />
<line x1="184.35" y1="1339.50" x2="214.65" y2="1339.50" stroke="#111" stroke-width="1.6" />
<rect x="170.1" y="1360.4" width="58.6" height="223.1" fill="#FDDFC1"/>
<path d="M170.1,1583.5V1360.4H228.7V1583.5" fill="none" stroke="#111" stroke-width="2" stroke-linejoin="miter"/>
<line x1="199.50" y1="1583.50" x2="199.50" y2="1590.50" stroke="#111" stroke-width="1.6" />
<line x1="294.10" y1="1396.00" x2="294.10" y2="1412.50" stroke="#111" stroke-width="1.6" />
<line x1="278.70" y1="1396.00" x2="309.50" y2="1396.00" stroke="#111" stroke-width="1.6" />
<rect x="264.3" y="1413.5" width="59.6" height="170.0" fill="#FF9F40"/>
<path d="M264.3,1583.5V1413.5H323.9V1583.5" fill="none" stroke="#111" stroke-width="2" stroke-linejoin="miter"/>
<line x1="294.10" y1="1583.50" x2="294.10" y2="1590.50" stroke="#111" stroke-width="1.6" />
<line x1="388.30" y1="1353.60" x2="388.30" y2="1364.50" stroke="#111" stroke-width="1.6" />
<line x1="373.25" y1="1353.60" x2="403.35" y2="1353.60" stroke="#111" stroke-width="1.6" />
<rect x="359.2" y="1365.5" width="58.2" height="218.0" fill="#C6DCF5"/>
<path d="M359.2,1583.5V1365.5H417.4V1583.5" fill="none" stroke="#111" stroke-width="2" stroke-linejoin="miter"/>
<line x1="388.30" y1="1583.50" x2="388.30" y2="1590.50" stroke="#111" stroke-width="1.6" />
<line x1="482.50" y1="1399.10" x2="482.50" y2="1416.20" stroke="#111" stroke-width="1.6" />
<line x1="467.35" y1="1399.10" x2="497.65" y2="1399.10" stroke="#111" stroke-width="1.6" />
<rect x="453.7" y="1417.2" width="58.6" height="166.3" fill="#55A0FF"/>
<path d="M453.7,1583.5V1417.2H512.3V1583.5" fill="none" stroke="#111" stroke-width="2" stroke-linejoin="miter"/>
<line x1="482.50" y1="1583.50" x2="482.50" y2="1590.50" stroke="#111" stroke-width="1.6" />
<line x1="152.00" y1="1289.00" x2="152.00" y2="1583.50" stroke="#111" stroke-width="1.8" />
<line x1="146.50" y1="1289.00" x2="152.00" y2="1289.00" stroke="#111" stroke-width="1.5" />
<line x1="146.50" y1="1363.30" x2="152.00" y2="1363.30" stroke="#111" stroke-width="1.5" />
<line x1="146.50" y1="1436.70" x2="152.00" y2="1436.70" stroke="#111" stroke-width="1.5" />
<line x1="146.50" y1="1510.00" x2="152.00" y2="1510.00" stroke="#111" stroke-width="1.5" />
<line x1="146.50" y1="1583.50" x2="530.40" y2="1583.50" stroke="#555" stroke-width="1.3" />
<line x1="800.00" y1="1352.90" x2="800.00" y2="1388.50" stroke="#111" stroke-width="1.6" />
<line x1="784.52" y1="1352.90" x2="815.48" y2="1352.90" stroke="#111" stroke-width="1.6" />
<rect x="770.0" y="1389.5" width="59.9" height="202.9" fill="#FDDFC1"/>
<path d="M770.0,1592.4V1389.5H829.9V1592.4" fill="none" stroke="#111" stroke-width="2" stroke-linejoin="miter"/>
<line x1="800.00" y1="1592.40" x2="800.00" y2="1599.40" stroke="#111" stroke-width="1.6" />
<line x1="896.00" y1="1471.30" x2="896.00" y2="1491.80" stroke="#111" stroke-width="1.6" />
<line x1="880.35" y1="1471.30" x2="911.65" y2="1471.30" stroke="#111" stroke-width="1.6" />
<rect x="865.7" y="1492.8" width="60.6" height="99.6" fill="#FF9F40"/>
<path d="M865.7,1592.4V1492.8H926.3V1592.4" fill="none" stroke="#111" stroke-width="2" stroke-linejoin="miter"/>
<line x1="896.00" y1="1592.40" x2="896.00" y2="1599.40" stroke="#111" stroke-width="1.6" />
<line x1="992.30" y1="1353.10" x2="992.30" y2="1365.50" stroke="#111" stroke-width="1.6" />
<line x1="976.55" y1="1353.10" x2="1008.05" y2="1353.10" stroke="#111" stroke-width="1.6" />
<rect x="962.0" y="1366.5" width="61.0" height="225.9" fill="#C6DCF5"/>
<path d="M962.0,1592.4V1366.5H1023.0V1592.4" fill="none" stroke="#111" stroke-width="2" stroke-linejoin="miter"/>
<line x1="992.30" y1="1592.40" x2="992.30" y2="1599.40" stroke="#111" stroke-width="1.6" />
<line x1="1088.60" y1="1457.60" x2="1088.60" y2="1478.10" stroke="#111" stroke-width="1.6" />
<line x1="1072.88" y1="1457.60" x2="1104.32" y2="1457.60" stroke="#111" stroke-width="1.6" />
<rect x="1058.4" y="1479.1" width="60.9" height="113.3" fill="#55A0FF"/>
<path d="M1058.4,1592.4V1479.1H1119.3V1592.4" fill="none" stroke="#111" stroke-width="2" stroke-linejoin="miter"/>
<line x1="1088.60" y1="1592.40" x2="1088.60" y2="1599.40" stroke="#111" stroke-width="1.6" />
<line x1="751.80" y1="1289.80" x2="751.80" y2="1592.40" stroke="#111" stroke-width="1.8" />
<line x1="746.30" y1="1289.80" x2="751.80" y2="1289.80" stroke="#111" stroke-width="1.5" />
<line x1="746.30" y1="1365.50" x2="751.80" y2="1365.50" stroke="#111" stroke-width="1.5" />
<line x1="746.30" y1="1441.20" x2="751.80" y2="1441.20" stroke="#111" stroke-width="1.5" />
<line x1="746.30" y1="1516.80" x2="751.80" y2="1516.80" stroke="#111" stroke-width="1.5" />
<line x1="746.30" y1="1592.40" x2="1138.70" y2="1592.40" stroke="#555" stroke-width="1.3" />
<path d="M895.30,1441.00L895.30,1433.70M895.30,1441.00L902.24,1438.74M895.30,1441.00L899.59,1446.91M895.30,1441.00L891.01,1446.91M895.30,1441.00L888.36,1438.74" stroke="#000" stroke-width="2.8" stroke-linecap="butt" fill="none"/>
<path d="M1088.40,1405.60V1428.30M1082.70,1410.90H1094.00M1082.70,1423.20H1094.00" stroke="#000" stroke-width="2.3" fill="none"/>
<text x="40.27" y="62.86" font-size="42.98" font-weight="bold" textLength="32.54" lengthAdjust="spacingAndGlyphs">A</text>
<text x="251.25" y="120.92" font-size="25.51" font-weight="bold" textLength="95.97" lengthAdjust="spacingAndGlyphs">Control</text>
<text x="504.05" y="121.00" font-size="25.03" font-weight="bold" textLength="112.71" lengthAdjust="spacingAndGlyphs">Ischemia</text>
<text x="837.80" y="120.84" font-size="25.80" font-weight="bold" textLength="155.24" lengthAdjust="spacingAndGlyphs">Reperfusion</text>
<text x="565.54" y="647.47" font-size="22.95" font-weight="bold" textLength="157.53" lengthAdjust="spacingAndGlyphs">Time (minutes)</text>
<text x="88.89" y="517.97" font-size="22.66" font-weight="bold" textLength="364.50" lengthAdjust="spacingAndGlyphs" transform="rotate(-90 88.89 517.97)">Developped pressure x Heart rate</text>
<text x="115.97" y="399.92" font-size="22.19" font-weight="bold" textLength="128.73" lengthAdjust="spacingAndGlyphs" transform="rotate(-90 115.97 399.92)">(mmHg/min)</text>
<text x="276.87" y="465.31" font-size="22.97" font-weight="normal" textLength="77.59" lengthAdjust="spacingAndGlyphs">F-CTRL</text>
<text x="276.68" y="497.16" font-size="22.50" font-weight="normal" textLength="65.50" lengthAdjust="spacingAndGlyphs">F-HFS</text>
<text x="276.68" y="528.83" font-size="22.10" font-weight="normal" textLength="81.99" lengthAdjust="spacingAndGlyphs">M-CTRL</text>
<text x="276.58" y="560.41" font-size="21.98" font-weight="normal" textLength="69.93" lengthAdjust="spacingAndGlyphs">M-HFS</text>
<text x="130.23" y="101.06" font-size="22.58" font-weight="bold" textLength="69.86" lengthAdjust="spacingAndGlyphs" stroke="#fff" stroke-width="0.12">40,000</text>
<text x="129.88" y="222.75" font-size="22.97" font-weight="bold" textLength="70.34" lengthAdjust="spacingAndGlyphs" stroke="#fff" stroke-width="0.12">30,000</text>
<text x="130.22" y="344.73" font-size="22.79" font-weight="bold" textLength="69.86" lengthAdjust="spacingAndGlyphs" stroke="#fff" stroke-width="0.12">20,000</text>
<text x="130.11" y="466.44" font-size="22.43" font-weight="bold" textLength="69.93" lengthAdjust="spacingAndGlyphs" stroke="#fff" stroke-width="0.12">10,000</text>
<text x="187.08" y="588.78" font-size="23.04" font-weight="bold" textLength="13.03" lengthAdjust="spacingAndGlyphs" stroke="#fff" stroke-width="0.12">0</text>
<text x="219.38" y="619.23" font-size="22.45" font-weight="bold" textLength="24.86" lengthAdjust="spacingAndGlyphs" stroke="#fff" stroke-width="0.12">16</text>
<text x="260.93" y="619.45" font-size="22.42" font-weight="bold" textLength="24.81" lengthAdjust="spacingAndGlyphs" stroke="#fff" stroke-width="0.12">20</text>
<text x="301.74" y="619.26" font-size="22.78" font-weight="bold" textLength="24.89" lengthAdjust="spacingAndGlyphs" stroke="#fff" stroke-width="0.12">24</text>
<text x="343.28" y="619.26" font-size="22.60" font-weight="bold" textLength="24.88" lengthAdjust="spacingAndGlyphs" stroke="#fff" stroke-width="0.12">28</text>
<text x="384.53" y="619.20" font-size="22.38" font-weight="bold" textLength="24.99" lengthAdjust="spacingAndGlyphs" stroke="#fff" stroke-width="0.12">32</text>
<text x="425.76" y="619.49" font-size="22.72" font-weight="bold" textLength="24.84" lengthAdjust="spacingAndGlyphs" stroke="#fff" stroke-width="0.12">36</text>
<text x="467.05" y="619.20" font-size="22.70" font-weight="bold" textLength="25.01" lengthAdjust="spacingAndGlyphs" stroke="#fff" stroke-width="0.12">40</text>
<text x="508.10" y="619.27" font-size="22.97" font-weight="bold" textLength="24.55" lengthAdjust="spacingAndGlyphs" stroke="#fff" stroke-width="0.12">44</text>
<text x="549.41" y="619.28" font-size="22.40" font-weight="bold" textLength="25.01" lengthAdjust="spacingAndGlyphs" stroke="#fff" stroke-width="0.12">48</text>
<text x="590.17" y="619.48" font-size="22.45" font-weight="bold" textLength="25.22" lengthAdjust="spacingAndGlyphs" stroke="#fff" stroke-width="0.12">52</text>
<text x="631.45" y="619.20" font-size="22.39" font-weight="bold" textLength="25.19" lengthAdjust="spacingAndGlyphs" stroke="#fff" stroke-width="0.12">56</text>
<text x="672.93" y="619.20" font-size="22.62" font-weight="bold" textLength="24.88" lengthAdjust="spacingAndGlyphs" stroke="#fff" stroke-width="0.12">60</text>
<text x="713.80" y="619.49" font-size="22.74" font-weight="bold" textLength="24.82" lengthAdjust="spacingAndGlyphs" stroke="#fff" stroke-width="0.12">64</text>
<text x="755.37" y="619.19" font-size="22.64" font-weight="bold" textLength="24.62" lengthAdjust="spacingAndGlyphs" stroke="#fff" stroke-width="0.12">68</text>
<text x="796.38" y="619.38" font-size="22.80" font-weight="bold" textLength="24.96" lengthAdjust="spacingAndGlyphs" stroke="#fff" stroke-width="0.12">72</text>
<text x="837.66" y="619.16" font-size="22.44" font-weight="bold" textLength="24.92" lengthAdjust="spacingAndGlyphs" stroke="#fff" stroke-width="0.12">76</text>
<text x="878.84" y="619.27" font-size="22.42" font-weight="bold" textLength="25.05" lengthAdjust="spacingAndGlyphs" stroke="#fff" stroke-width="0.12">80</text>
<text x="919.81" y="619.42" font-size="22.54" font-weight="bold" textLength="24.74" lengthAdjust="spacingAndGlyphs" stroke="#fff" stroke-width="0.12">84</text>
<text x="961.34" y="619.12" font-size="22.37" font-weight="bold" textLength="24.81" lengthAdjust="spacingAndGlyphs" stroke="#fff" stroke-width="0.12">88</text>
<text x="1002.53" y="619.08" font-size="22.61" font-weight="bold" textLength="24.83" lengthAdjust="spacingAndGlyphs" stroke="#fff" stroke-width="0.12">92</text>
<text x="1043.57" y="619.13" font-size="22.69" font-weight="bold" textLength="25.08" lengthAdjust="spacingAndGlyphs" stroke="#fff" stroke-width="0.12">96</text>
<text x="258.72" y="790.43" font-size="42.64" font-weight="bold" textLength="29.48" lengthAdjust="spacingAndGlyphs">B</text>
<text x="358.77" y="780.42" font-size="17.00" font-weight="bold" textLength="18.29" lengthAdjust="spacingAndGlyphs" stroke="#fff" stroke-width="0.0">80</text>
<text x="358.83" y="854.88" font-size="17.02" font-weight="bold" textLength="18.32" lengthAdjust="spacingAndGlyphs" stroke="#fff" stroke-width="0.0">60</text>
<text x="358.71" y="928.57" font-size="16.88" font-weight="bold" textLength="18.41" lengthAdjust="spacingAndGlyphs" stroke="#fff" stroke-width="0.0">40</text>
<text x="358.77" y="1002.81" font-size="16.84" font-weight="bold" textLength="18.36" lengthAdjust="spacingAndGlyphs" stroke="#fff" stroke-width="0.0">20</text>
<text x="367.77" y="1077.27" font-size="16.89" font-weight="bold" textLength="9.46" lengthAdjust="spacingAndGlyphs" stroke="#fff" stroke-width="0.0">0</text>
<text x="346.66" y="1062.78" font-size="17.19" font-weight="normal" textLength="282.18" lengthAdjust="spacingAndGlyphs" stroke="#000" stroke-width="0.5" transform="rotate(-90 346.66 1062.78)">% of recovery during reperfusion</text>
<text x="407.19" y="1108.48" font-size="18.42" font-weight="bold" textLength="64.57" lengthAdjust="spacingAndGlyphs" stroke="#fff" stroke-width="0.12">F-CTRL</text>
<text x="518.49" y="1108.22" font-size="18.39" font-weight="bold" textLength="53.03" lengthAdjust="spacingAndGlyphs" stroke="#fff" stroke-width="0.12">F-HFS</text>
<text x="616.52" y="1108.23" font-size="18.39" font-weight="bold" textLength="68.92" lengthAdjust="spacingAndGlyphs" stroke="#fff" stroke-width="0.12">M-CTRL</text>
<text x="728.60" y="1108.10" font-size="18.42" font-weight="bold" textLength="55.88" lengthAdjust="spacingAndGlyphs" stroke="#fff" stroke-width="0.12">M-HFS</text>
<text x="41.00" y="1261.62" font-size="40.84" font-weight="bold" textLength="30.64" lengthAdjust="spacingAndGlyphs">C</text>
<text x="123.40" y="1294.16" font-size="17.72" font-weight="bold" textLength="18.91" lengthAdjust="spacingAndGlyphs" stroke="#fff" stroke-width="0.0">20</text>
<text x="123.36" y="1368.72" font-size="18.00" font-weight="bold" textLength="18.72" lengthAdjust="spacingAndGlyphs" stroke="#fff" stroke-width="0.0">15</text>
<text x="123.45" y="1442.29" font-size="17.68" font-weight="bold" textLength="18.79" lengthAdjust="spacingAndGlyphs" stroke="#fff" stroke-width="0.0">10</text>
<text x="132.38" y="1515.47" font-size="17.78" font-weight="bold" textLength="9.53" lengthAdjust="spacingAndGlyphs" stroke="#fff" stroke-width="0.0">5</text>
<text x="132.77" y="1588.55" font-size="17.78" font-weight="bold" textLength="9.44" lengthAdjust="spacingAndGlyphs" stroke="#fff" stroke-width="0.0">0</text>
<text x="90.17" y="1527.51" font-size="17.53" font-weight="bold" textLength="183.06" lengthAdjust="spacingAndGlyphs" transform="rotate(-90 90.17 1527.51)">Control coronary flow</text>
<text x="112.12" y="1493.87" font-size="17.24" font-weight="bold" textLength="116.89" lengthAdjust="spacingAndGlyphs" transform="rotate(-90 112.12 1493.87)">(mL/min/gww)</text>
<text x="166.32" y="1614.62" font-size="18.27" font-weight="bold" textLength="64.39" lengthAdjust="spacingAndGlyphs" stroke="#fff" stroke-width="0.12">F-CTRL</text>
<text x="267.36" y="1614.51" font-size="18.20" font-weight="bold" textLength="51.56" lengthAdjust="spacingAndGlyphs" stroke="#fff" stroke-width="0.12">F-HFS</text>
<text x="353.57" y="1614.85" font-size="18.21" font-weight="bold" textLength="68.38" lengthAdjust="spacingAndGlyphs" stroke="#fff" stroke-width="0.12">M-CTRL</text>
<text x="453.85" y="1614.72" font-size="18.20" font-weight="bold" textLength="57.13" lengthAdjust="spacingAndGlyphs" stroke="#fff" stroke-width="0.12">M-HFS</text>
<text x="648.80" y="1261.76" font-size="42.79" font-weight="bold" textLength="29.74" lengthAdjust="spacingAndGlyphs">D</text>
<text x="722.66" y="1296.23" font-size="17.43" font-weight="bold" textLength="18.49" lengthAdjust="spacingAndGlyphs" stroke="#fff" stroke-width="0.0">20</text>
<text x="722.50" y="1371.57" font-size="17.73" font-weight="bold" textLength="18.59" lengthAdjust="spacingAndGlyphs" stroke="#fff" stroke-width="0.0">15</text>
<text x="722.63" y="1447.49" font-size="17.41" font-weight="bold" textLength="18.52" lengthAdjust="spacingAndGlyphs" stroke="#fff" stroke-width="0.0">10</text>
<text x="731.54" y="1523.38" font-size="17.67" font-weight="bold" textLength="9.70" lengthAdjust="spacingAndGlyphs" stroke="#fff" stroke-width="0.0">5</text>
<text x="731.80" y="1598.67" font-size="17.41" font-weight="bold" textLength="9.41" lengthAdjust="spacingAndGlyphs" stroke="#fff" stroke-width="0.0">0</text>
<text x="689.12" y="1552.89" font-size="17.75" font-weight="bold" textLength="225.51" lengthAdjust="spacingAndGlyphs" transform="rotate(-90 689.12 1552.89)">Reperfusion coronary flow</text>
<text x="710.99" y="1499.47" font-size="17.29" font-weight="bold" textLength="119.29" lengthAdjust="spacingAndGlyphs" transform="rotate(-90 710.99 1499.47)">(mL/min/gww)</text>
<text x="766.15" y="1622.22" font-size="18.16" font-weight="bold" textLength="65.69" lengthAdjust="spacingAndGlyphs" stroke="#fff" stroke-width="0.12">F-CTRL</text>
<text x="869.36" y="1622.19" font-size="18.13" font-weight="bold" textLength="52.90" lengthAdjust="spacingAndGlyphs" stroke="#fff" stroke-width="0.12">F-HFS</text>
<text x="956.93" y="1622.46" font-size="18.12" font-weight="bold" textLength="70.04" lengthAdjust="spacingAndGlyphs" stroke="#fff" stroke-width="0.12">M-CTRL</text>
<text x="1059.93" y="1622.43" font-size="18.16" font-weight="bold" textLength="57.29" lengthAdjust="spacingAndGlyphs" stroke="#fff" stroke-width="0.12">M-HFS</text>
</svg>
</body></html>
